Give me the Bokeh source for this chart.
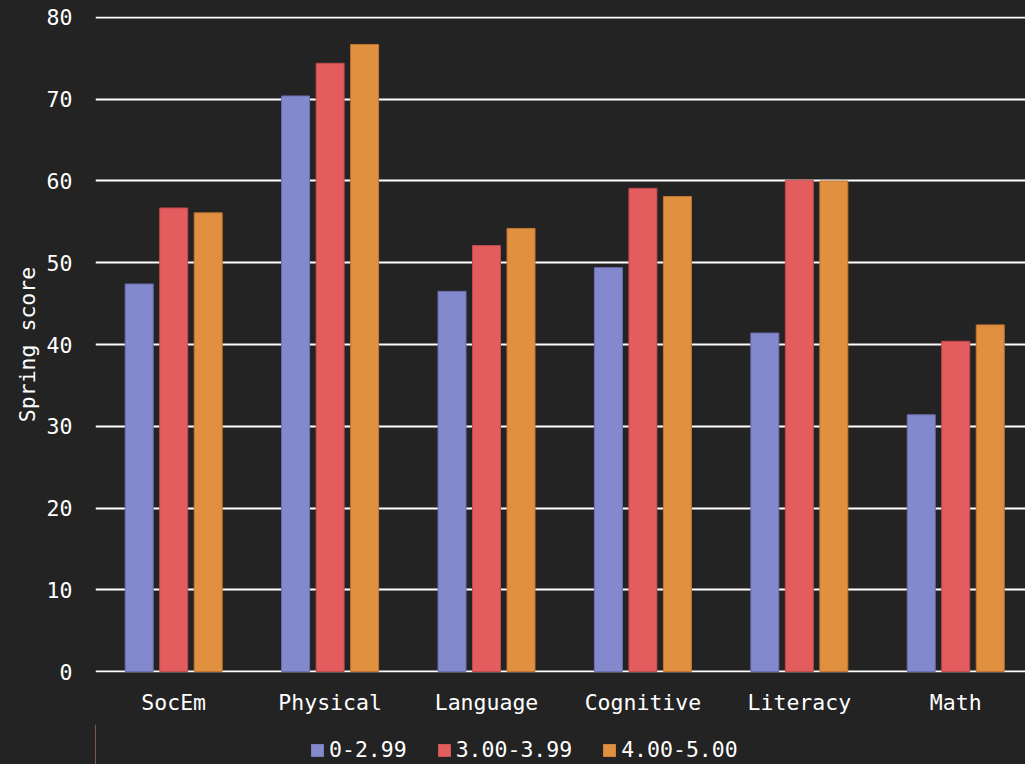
from bokeh.plotting import figure
from bokeh.layouts import column
from bokeh.models import (Range1d, FixedTicker, Legend, LegendItem, ColumnDataSource)
from bokeh.transform import dodge
from bokeh.embed import file_html
from bokeh.resources import INLINE

# Spring scores by domain, grouped by GPA band
domains = ["SocEm", "Physical", "Language", "Cognitive", "Literacy", "Math"]
bands = ["0-2.99", "3.00-3.99", "4.00-5.00"]
band_low = [47.4, 70.4, 46.5, 49.4, 41.4, 31.4]
band_mid = [56.7, 74.4, 52.1, 59.1, 60.1, 40.4]
band_high = [56.1, 76.7, 54.2, 58.1, 60.0, 42.4]
y_ticks = [0, 10, 20, 30, 40, 50, 60, 70, 80]

colors = ["#8489cd", "#e35d5f", "#e0903f"]
edges = ["#6a6fae", "#c04a4c", "#bf7632"]
FONT = "DejaVu Sans Mono"
FS = "21.5px"
BG = "#232323"

src = ColumnDataSource(dict(
    idx=list(range(len(domains))),
    low=band_low,
    mid=band_mid,
    high=band_high,
))

p = figure(
    width=1025, height=724,
    x_range=Range1d(-0.5, 5.446), y_range=Range1d(-0.12, 80.12),
    output_backend="svg", toolbar_location=None,
    min_border_left=95, min_border_right=0, min_border_top=16, min_border_bottom=52,
)
p.background_fill_color = BG
p.border_fill_color = BG
p.outline_line_color = None

offset = 0.2206
bw = 0.179
bar_specs = [("low", -offset), ("mid", 0.0), ("high", offset)]
for (col, off), fc, lc in zip(bar_specs, colors, edges):
    p.vbar(x=dodge("idx", off), top=col, width=bw, source=src,
           fill_color=fc, line_color=lc, line_width=1)

# grid
p.xgrid.grid_line_color = None
p.ygrid.ticker = FixedTicker(ticks=y_ticks)
p.ygrid.grid_line_color = "white"
p.ygrid.grid_line_width = 2
p.ygrid.level = "underlay"

# axes
p.xaxis.ticker = FixedTicker(ticks=list(range(len(domains))))
p.xaxis.major_label_overrides = {i: d for i, d in enumerate(domains)}
p.yaxis.ticker = FixedTicker(ticks=y_ticks)
for ax in (p.xaxis[0], p.yaxis[0]):
    ax.axis_line_color = None
    ax.major_tick_line_color = None
    ax.minor_tick_line_color = None
    ax.major_label_text_color = "white"
    ax.major_label_text_font = FONT
    ax.major_label_text_font_size = FS
    ax.axis_label_text_color = "white"
    ax.axis_label_text_font = FONT
    ax.axis_label_text_font_size = FS
    ax.axis_label_text_font_style = "normal"
p.xaxis.major_label_standoff = 11
p.yaxis.major_label_standoff = 17
p.yaxis.axis_label = "Spring score"
p.yaxis.axis_label_standoff = 4

# legend strip underneath the chart (transparent; the page colour shows through)
lg = figure(
    width=1025, height=40,
    x_range=Range1d(0, 1), y_range=Range1d(0, 1),
    output_backend="svg", toolbar_location=None,
    min_border_left=0, min_border_right=0, min_border_top=0, min_border_bottom=0,
)
lg.axis.visible = False
lg.grid.visible = False
lg.background_fill_alpha = 0
lg.border_fill_alpha = 0
lg.outline_line_color = None
# swatch renderers sit outside the visible range; only their legend glyphs show
swatches = [lg.vbar(x=[-10], top=[1], width=0.1, fill_color=fc, line_color=None)
            for fc in colors]

legend = Legend(
    items=[LegendItem(label=b, renderers=[r]) for b, r in zip(bands, swatches)],
    orientation="horizontal",
    location=(214, 2),
    background_fill_alpha=0,
    border_line_color=None,
    label_text_color="white",
    label_text_font=FONT,
    label_text_font_size=FS,
    glyph_width=16, glyph_height=16,
    label_standoff=4, spacing=29, padding=0, margin=0,
)
lg.add_layout(legend, "center")

layout = column(p, lg, spacing=0)
html = file_html(layout, INLINE)
html = html.replace("</head>", "<style>html, body { background: %s; }</style>\n</head>" % BG, 1)
open("out.html", "w").write(html)
